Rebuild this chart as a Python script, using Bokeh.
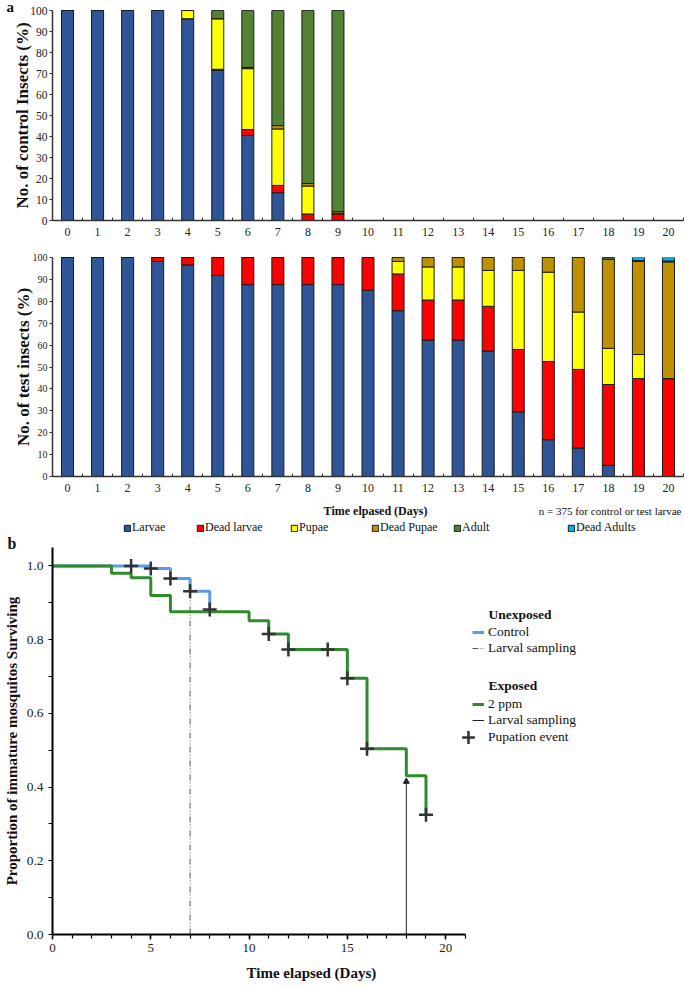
from bokeh.plotting import figure
from bokeh.layouts import column
from bokeh.models import (ColumnDataSource, Range1d, FixedTicker, Legend, LegendItem,
                          Label, Title, PrintfTickFormatter)
from bokeh.embed import file_html
from bokeh.resources import INLINE

# ---------------- data ----------------
days = [0, 1, 2, 3, 4, 5, 6, 7, 8, 9, 10, 11, 12, 13, 14, 15, 16, 17, 18, 19, 20]
stages = ["Larvae", "Dead larvae", "Pupae", "Dead Pupae", "Adult", "Dead Adults"]
stage_colors = ["#2F5597", "#FF0000", "#FFFF00", "#BF9000", "#548235", "#00B0F0"]

control_days = [0, 1, 2, 3, 4, 5, 6, 7, 8, 9]
control_larvae = [100, 100, 100, 100, 96.1, 71.5, 40.5, 13.2, 0, 0]
control_dead_larvae = [0, 0, 0, 0, 0, 0.5, 2.8, 3.5, 3.1, 3.1]
control_pupae = [0, 0, 0, 0, 3.9, 24.1, 29.0, 26.9, 13.3, 0.3]
control_dead_pupae = [0, 0, 0, 0, 0, 0, 0.6, 1.6, 1.2, 0.8]
control_adult = [0, 0, 0, 0, 0, 3.9, 27.1, 54.8, 82.4, 95.8]
control_dead_adults = [0, 0, 0, 0, 0, 0, 0, 0, 0, 0]

test_larvae = [100, 100, 100, 98.2, 96.6, 91.8, 87.6, 87.6, 87.6, 87.6, 85.0,
               75.7, 62.3, 62.3, 57.3, 29.5, 16.8, 13.0, 5.1, 0, 0]
test_dead_larvae = [0, 0, 0, 1.8, 3.4, 8.2, 12.4, 12.4, 12.4, 12.4, 15.0,
                    16.8, 18.3, 18.3, 20.4, 28.5, 35.7, 35.9, 36.9, 44.7, 44.7]
test_pupae = [0, 0, 0, 0, 0, 0, 0, 0, 0, 0, 0,
              5.7, 15.1, 15.1, 16.4, 36.1, 40.8, 26.2, 16.5, 11.0, 0]
test_dead_pupae = [0, 0, 0, 0, 0, 0, 0, 0, 0, 0, 0,
                   1.8, 4.3, 4.3, 5.9, 5.9, 6.7, 24.9, 40.7, 42.5, 53.3]
test_adult = [0, 0, 0, 0, 0, 0, 0, 0, 0, 0, 0,
              0, 0, 0, 0, 0, 0, 0, 0.8, 0.4, 0.4]
test_dead_adults = [0, 0, 0, 0, 0, 0, 0, 0, 0, 0, 0,
                    0, 0, 0, 0, 0, 0, 0, 0, 1.4, 1.6]

# survival (Kaplan-Meier style) data
control_time = [0, 5, 6, 7, 8]
control_surv = [1.0, 0.993, 0.966, 0.931, 0.882]
control_pup_time = [4, 5, 6, 7, 8]
control_pup_surv = [1.0, 0.993, 0.966, 0.931, 0.882]

exposed_time = [0, 3, 4, 5, 6, 10, 11, 12, 15, 16, 18, 19]
exposed_surv = [1.0, 0.980, 0.968, 0.920, 0.876, 0.851, 0.815, 0.773, 0.695, 0.504, 0.431, 0.325]
exposed_pup_time = [11, 12, 14, 15, 16, 19]
exposed_pup_surv = [0.815, 0.773, 0.773, 0.695, 0.504, 0.325]

control_sampling_day = [7]
control_sampling_top = [0.931]
exposed_sampling_day = [18]
exposed_sampling_top = [0.415]

FONT = "Liberation Serif"
W = 685
LEFT = 49
RIGHT = 2


def bar_figure(height, top, bottom, ylabel, ytick_size, label_standoff):
    p = figure(width=W, height=height, x_range=Range1d(-0.5, 20.5), y_range=Range1d(0, 100),
               output_backend="svg", toolbar_location=None,
               min_border_left=LEFT, min_border_right=RIGHT, min_border_top=top,
               min_border_bottom=bottom)
    p.xgrid.visible = False
    p.ygrid.visible = False
    p.outline_line_color = None
    xa = p.xaxis[0]
    xa.ticker = FixedTicker(ticks=days, minor_ticks=[d + 0.5 for d in days])
    xa.major_tick_out = 0
    xa.major_tick_in = 0
    xa.minor_tick_in = 3
    xa.minor_tick_out = 0
    xa.axis_line_color = "#333333"
    xa.axis_line_width = 1.5
    xa.minor_tick_line_color = "#333333"
    xa.major_label_text_font = FONT
    xa.major_label_text_font_size = "12px"
    xa.major_label_text_color = "#222222"
    xa.major_label_standoff = 7
    ya = p.yaxis[0]
    ya.ticker = FixedTicker(ticks=list(range(0, 101, 10)), minor_ticks=[])
    ya.major_tick_out = 3
    ya.major_tick_in = 0
    ya.axis_line_color = "#333333"
    ya.axis_line_width = 1.5
    ya.major_tick_line_color = "#333333"
    ya.major_label_text_font = FONT
    ya.major_label_text_font_size = ytick_size
    ya.major_label_text_color = "#222222"
    ya.major_label_standoff = 2
    ya.axis_label = ylabel
    ya.axis_label_text_font = FONT
    ya.axis_label_text_font_style = "bold"
    ya.axis_label_text_font_size = "17px"
    ya.axis_label_text_color = "#111111"
    ya.axis_label_standoff = label_standoff
    return p


# ---------------- panel a (control) ----------------
src_c = ColumnDataSource(dict(day=control_days, **{
    "Larvae": control_larvae, "Dead larvae": control_dead_larvae, "Pupae": control_pupae,
    "Dead Pupae": control_dead_pupae, "Adult": control_adult, "Dead Adults": control_dead_adults}))
p1 = bar_figure(246, 0, 26, "No. of control Insects (%)", "11.5px", -5)
p1.add_layout(Title(text="a", align="left", offset=-LEFT + 3, standoff=-8, text_font=FONT,
                    text_font_style="bold", text_font_size="15px", text_color="#111111"), "above")
p1.vbar_stack(stages, x="day", width=0.4, source=src_c, fill_color=stage_colors,
              line_color="#1a1a1a", line_width=1)

# ---------------- panel a (test) ----------------
src_t = ColumnDataSource(dict(day=days, **{
    "Larvae": test_larvae, "Dead larvae": test_dead_larvae, "Pupae": test_pupae,
    "Dead Pupae": test_dead_pupae, "Adult": test_adult, "Dead Adults": test_dead_adults}))
p2 = bar_figure(252, 11, 22, "No. of test insects (%)", "10px", -3)
p2.vbar_stack(stages, x="day", width=0.4, source=src_t, fill_color=stage_colors,
              line_color="#1a1a1a", line_width=1)

# ---------------- legend strip for panel a ----------------
pl = figure(width=W, height=38, x_range=Range1d(-0.5, 20.5), y_range=Range1d(150, 151),
            x_axis_type=None, y_axis_type=None, output_backend="svg", toolbar_location=None,
            min_border_left=LEFT, min_border_right=RIGHT, min_border_top=0, min_border_bottom=0)
pl.xgrid.visible = False
pl.ygrid.visible = False
pl.outline_line_color = None
# same stacked data, kept out of view: used only as legend swatches
proxies = pl.vbar_stack(stages, x="day", width=0.4, source=src_t, fill_color=stage_colors,
                        line_color="#1a1a1a", line_width=1)
pl.add_layout(Label(x=323, y=26, x_units="screen", y_units="screen", text="Time elpased (Days)",
                    text_font=FONT, text_font_style="bold", text_font_size="12px",
                    text_baseline="middle", text_align="center", text_color="#111111"))
pl.add_layout(Label(x=629, y=26, x_units="screen", y_units="screen",
                    text="n = 375 for control or test larvae",
                    text_font=FONT, text_font_size="11px",
                    text_baseline="middle", text_align="right", text_color="#111111"))
legend_x = [71, 144, 238, 319, 401, 515]
for name, r, lx in zip(stages, proxies, legend_x):
    pl.add_layout(Legend(items=[LegendItem(label=name, renderers=[r])], location=(lx, 1),
                         border_line_color=None, background_fill_alpha=0, padding=0, margin=0,
                         spacing=0, label_standoff=1, glyph_width=8, glyph_height=8,
                         label_height=12, label_text_font=FONT, label_text_font_size="12px",
                         label_text_color="#111111"))

# ---------------- panel b ----------------
p3 = figure(width=W, height=453, x_range=Range1d(0, 32.1), y_range=Range1d(0, 1.05),
            output_backend="svg", toolbar_location=None,
            min_border_left=LEFT, min_border_right=RIGHT, min_border_top=0, min_border_bottom=54)
p3.add_layout(Title(text="b", align="left", offset=-LEFT + 4, standoff=-8, text_font=FONT,
                    text_font_style="bold", text_font_size="16px", text_color="#111111"), "above")
p3.xgrid.visible = False
p3.ygrid.visible = False
p3.outline_line_color = None
xa = p3.xaxis[0]
xa.bounds = (0, 21)
xa.ticker = FixedTicker(ticks=[0, 5, 10, 15, 20], minor_ticks=list(range(0, 22)))
xa.axis_line_color = "black"
xa.axis_line_width = 2
xa.major_tick_out = 5
xa.major_tick_in = 0
xa.minor_tick_out = 4
xa.minor_tick_in = 0
xa.major_tick_line_color = "black"
xa.minor_tick_line_color = "black"
xa.major_tick_line_width = 1.5
xa.minor_tick_line_width = 1.2
xa.major_label_text_font = FONT
xa.major_label_text_font_size = "13px"
xa.major_label_text_color = "#222222"
xa.major_label_standoff = 4
p3.add_layout(Title(text="Time elapsed (Days)", align="left", offset=194, standoff=17,
                    text_font=FONT, text_font_style="bold", text_font_size="15px",
                    text_color="#111111"), "below")
ya = p3.yaxis[0]
ya.ticker = FixedTicker(ticks=[0, 0.2, 0.4, 0.6, 0.8, 1.0], minor_ticks=[0.1, 0.3, 0.5, 0.7, 0.9])
ya.formatter = PrintfTickFormatter(format="%.1f")
ya.axis_line_color = "black"
ya.axis_line_width = 2
ya.major_tick_out = 4
ya.major_tick_in = 0
ya.minor_tick_out = 4
ya.minor_tick_in = 0
ya.major_tick_line_color = "black"
ya.minor_tick_line_color = "black"
ya.major_label_text_font = FONT
ya.major_label_text_font_size = "13.5px"
ya.major_label_text_color = "#222222"
ya.major_label_standoff = 5
ya.axis_label = "Proportion of immature mosquitos Surviving"
ya.axis_label_text_font = FONT
ya.axis_label_text_font_style = "bold"
ya.axis_label_text_font_size = "15px"
ya.axis_label_text_color = "#111111"
ya.axis_label_standoff = 4

r_cs = p3.segment(x0=control_sampling_day, y0=[0], x1=control_sampling_day, y1=control_sampling_top,
                  line_color="#555555", line_width=1, line_dash="6 2 1 2 1 2")
r_es = p3.segment(x0=exposed_sampling_day, y0=[0], x1=exposed_sampling_day, y1=exposed_sampling_top,
                  line_color="#222222", line_width=1)
p3.scatter(x=exposed_sampling_day, y=exposed_sampling_top, marker="triangle", size=6,
           fill_color="#222222", line_color="#222222")
r_c = p3.step(x=control_time, y=control_surv, mode="after", line_color="#5A9BE6", line_width=3)
r_e = p3.step(x=exposed_time, y=exposed_surv, mode="after", line_color="#2E8B2E", line_width=3)
p3.scatter(x=control_pup_time, y=control_pup_surv, marker="cross", size=14,
           line_color="#333333", line_width=2.5)
r_p = p3.scatter(x=exposed_pup_time, y=exposed_pup_surv, marker="cross", size=14,
                 line_color="#333333", line_width=2.5)

p3.add_layout(Label(x=436, y=320, x_units="screen", y_units="screen", text="Unexposed",
                    text_font=FONT, text_font_style="bold", text_font_size="13.5px",
                    text_baseline="middle", text_align="left", text_color="#111111"))
p3.add_layout(Label(x=436, y=249, x_units="screen", y_units="screen", text="Exposed",
                    text_font=FONT, text_font_style="bold", text_font_size="13.5px",
                    text_baseline="middle", text_align="left", text_color="#111111"))

common = dict(border_line_color=None, background_fill_alpha=0, padding=0, margin=0,
              spacing=0, label_standoff=4, glyph_width=12, glyph_height=16, label_height=16,
              label_text_font=FONT, label_text_font_size="13.5px", label_text_color="#111111")
p3.add_layout(Legend(items=[LegendItem(label="Control", renderers=[r_c]),
                            LegendItem(label="Larval sampling", renderers=[r_cs])],
                     location=(420, 278), **common))
p3.add_layout(Legend(items=[LegendItem(label="2 ppm", renderers=[r_e]),
                            LegendItem(label="Larval sampling", renderers=[r_es])],
                     location=(420, 206), **common))
common_big = dict(common)
common_big.update(glyph_width=32, glyph_height=32, label_height=32)
p3.add_layout(Legend(items=[LegendItem(label="Pupation event", renderers=[r_p])],
                     location=(400, 181), **common_big))

layout = column(p1, p2, pl, p3, spacing=0)
open("out.html", "w").write(file_html(layout, INLINE))
